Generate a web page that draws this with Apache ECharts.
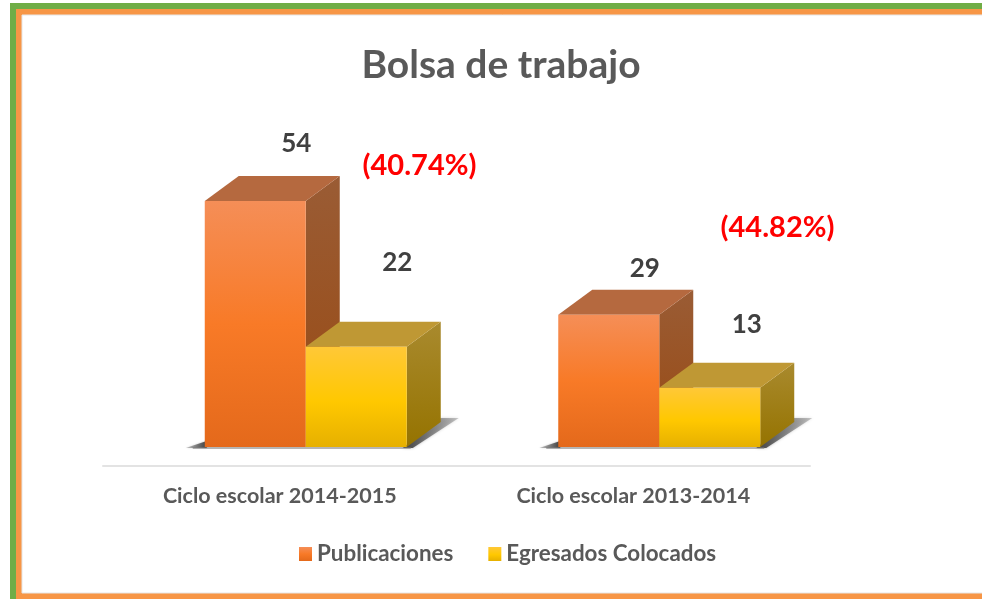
<!DOCTYPE html>
<html><head><meta charset="utf-8">
<style>html,body{margin:0;padding:0;background:#fff}#c{width:982px;height:599px}</style>
<script src="https://cdn.jsdelivr.net/npm/echarts@6/dist/echarts.min.js"></script>
</head><body><div id="c"></div>
<script>
const categories = ['Ciclo escolar 2014-2015', 'Ciclo escolar 2013-2014'];
const publicaciones = [54, 29];
const egresados = [22, 13];
const porcentajes = ['(40.74%)', '(44.82%)'];
const titulo = 'Bolsa de trabajo';
const seriesNames = ['Publicaciones', 'Egresados Colocados'];

const FONT = 'Lato, "Open Sans", sans-serif';
const DX = 34, DY = 25;
const grad = (stops) => ({type:'linear',x:0,y:0,x2:0,y2:1,colorStops:stops.map(s=>({offset:s[0],color:s[1]}))});
const hgrad = (a,b) => ({type:'linear',x:0,y:0,x2:1,y2:0,colorStops:[{offset:0,color:a},{offset:1,color:b}]});
const skins = [
  {front:grad([[0,'#F58E57'],[0.5,'#F87A27'],[1,'#E4691B']]), side:grad([[0,'#9A5C35'],[1,'#994A12']]), top:'#B5693F'},
  {front:grad([[0,'#FFC837'],[0.55,'#FFC800'],[1,'#E6B000']]), side:grad([[0,'#A98A2E'],[1,'#957300']]), top:'#BF9834'}
];
// label offset from the front face's top-centre, one per series and category
const labelOffsets = [[[41,-57],[36,-46]],[[41,-84],[37,-63]]];

function renderBar(seriesIdx){
  return function(params, api){
    const cat = api.value(0), val = api.value(1);
    const top = api.coord([cat, val]), base = api.coord([cat, 0]);
    const bw = api.size([1,0])[0] * 0.2857;
    const x = top[0] + 26 + (seriesIdx === 0 ? -bw : 0);
    const y0 = top[1], y1 = base[1];
    const skin = skins[seriesIdx];
    const children = [];
    if (seriesIdx === 0) {
      // soft floor shadow beneath the pair of blocks
      const r = x + 2*bw;
      children.push(
        {type:'polygon',shape:{points:[[r-4,y1+1],[r+6,y1+1],[r+DX+18,y1-DY-4],[r+DX,y1-DY-4]]},
          style:{fill:hgrad('#3F3F3F','rgba(110,110,110,0.35)'),shadowBlur:3,shadowColor:'rgba(90,90,90,0.5)'}},
        {type:'polygon',shape:{points:[[x-19,y1+1],[x+2,y1+1],[x+2,y1-6]]},
          style:{fill:hgrad('rgba(110,110,110,0.35)','#3F3F3F'),shadowBlur:2,shadowColor:'rgba(90,90,90,0.5)'}},
        {type:'rect',shape:{x:x-12,y:y1,width:2*bw+16,height:2},style:{fill:'rgba(120,120,120,0.55)'}}
      );
    }
    children.push(
      {type:'polygon',shape:{points:[[x+bw,y0],[x+bw+DX,y0-DY],[x+bw+DX,y1-DY],[x+bw,y1]]},style:{fill:skin.side}},
      {type:'polygon',shape:{points:[[x,y0],[x+DX,y0-DY],[x+bw+DX,y0-DY],[x+bw,y0]]},style:{fill:skin.top}},
      {type:'rect',shape:{x:x,y:y0,width:bw,height:y1-y0},style:{fill:skin.front}}
    );
    const off = labelOffsets[seriesIdx][cat];
    children.push({type:'text',style:{x:x+bw/2+off[0],y:y0+off[1],text:String(val),fill:'#404040',
      font:'bold 26px '+FONT,align:'center',verticalAlign:'middle'},z2:10});
    return {type:'group',children};
  };
}

const frame = [
  {type:'rect',shape:{x:10,y:3,width:980,height:600},style:{fill:'#70AD47'}},
  {type:'rect',shape:{x:16,y:9,width:970,height:594},style:{fill:'#F79646'}},
  {type:'rect',shape:{x:22,y:15,width:966,height:578},style:{fill:'#FFFFFF',stroke:'#E6E6E6',lineWidth:1}}
];
const pctLabels = porcentajes.map((t,i)=>({type:'text',z:5,style:{x:[419.5,777.5][i],y:[166,228][i],text:t,fill:'#FF0000',
  font:'bold 29px '+FONT,align:'center',verticalAlign:'middle'}}));

const chart = echarts.init(document.getElementById('c'));
chart.setOption({
  animation:false,
  backgroundColor:'#fff',
  graphic:[...frame.map(f=>({...f,z:-10,silent:true})),...pctLabels],
  title:{text:titulo,left:496,top:60,textAlign:'center',textVerticalAlign:'middle',
    textStyle:{fontFamily:FONT,fontSize:39,fontWeight:'bold',color:'#595959'}},
  legend:{left:294,top:538,itemWidth:13,itemHeight:14,itemGap:35,icon:'rect',
    textStyle:{fontFamily:FONT,fontSize:22.4,fontWeight:'bold',color:'#595959'},
    data:[{name:seriesNames[0],itemStyle:{color:skins[0].front}},{name:seriesNames[1],itemStyle:{color:skins[1].front}}]},
  grid:{left:103,width:707,top:173.6,height:273.4},
  xAxis:{type:'category',data:categories,offset:19,
    axisLine:{show:true,onZero:false,lineStyle:{color:'#E3E3E3',width:2}},axisTick:{show:false},
    axisLabel:{margin:19,fontFamily:FONT,fontSize:21.5,fontWeight:'bold',color:'#595959'}},
  yAxis:{type:'value',min:0,max:60,show:false},
  series:[
    {name:seriesNames[0],type:'custom',renderItem:renderBar(0),encode:{x:0,y:1},z:2,clip:false,
      itemStyle:{color:'#F87A27'},data:publicaciones.map((v,i)=>[i,v])},
    {name:seriesNames[1],type:'custom',renderItem:renderBar(1),encode:{x:0,y:1},z:3,clip:false,
      itemStyle:{color:'#FFC800'},data:egresados.map((v,i)=>[i,v])}
  ]
});
</script></body></html>
